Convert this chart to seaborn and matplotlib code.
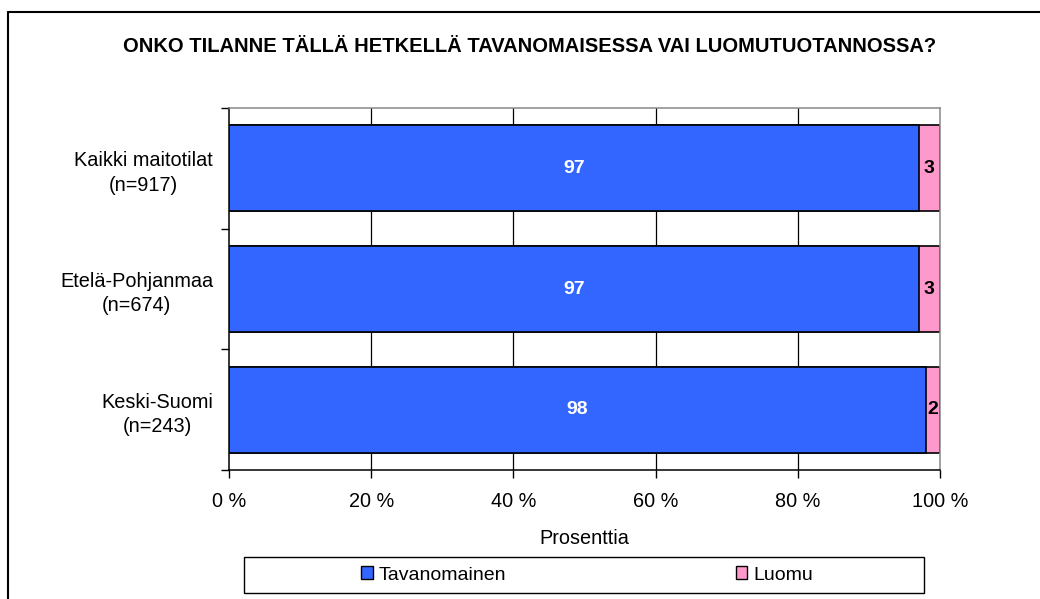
import numpy as np
import pandas as pd
import seaborn as sns
import matplotlib.pyplot as plt
from matplotlib.patches import Rectangle, Patch
from matplotlib.lines import Line2D

categories = ['Kaikki maitotilat\n(n=917)', 'Etelä-Pohjanmaa\n(n=674)', 'Keski-Suomi\n(n=243)']
tavanomainen = [97, 97, 98]
luomu = [3, 3, 2]
series_names = ['Tavanomainen', 'Luomu']
xticks = [0, 20, 40, 60, 80, 100]
xtick_labels = ['0 %', '20 %', '40 %', '60 %', '80 %', '100 %']

blue = '#3366FF'
pink = '#FF99CC'

df = pd.DataFrame({'cat': categories, 'tav': tavanomainen, 'luomu': luomu})
df['total'] = df['tav'] + df['luomu']

sns.set_style('white')
plt.rcParams['font.family'] = ['Liberation Sans', 'DejaVu Sans']
plt.rcParams['text.color'] = 'black'
plt.rcParams['axes.labelcolor'] = 'black'
plt.rcParams['xtick.color'] = 'black'
plt.rcParams['ytick.color'] = 'black'

fig = plt.figure(figsize=(10.4, 5.99), dpi=100)
ax = fig.add_axes([229 / 1040, 1 - 470 / 599, (940 - 229) / 1040, (470 - 108) / 599])

# grid first so bars sit on top
for x in xticks[1:-1]:
    ax.axvline(x, color='black', lw=0.9, zorder=0)

sns.barplot(data=df, x='total', y='cat', orient='h', color=pink, saturation=1,
            edgecolor='black', linewidth=1.2, width=0.71, ax=ax, zorder=2)
sns.barplot(data=df, x='tav', y='cat', orient='h', color=blue, saturation=1,
            edgecolor='black', linewidth=1.2, width=0.71, ax=ax, zorder=3)

for i, row in df.iterrows():
    ax.text(row['tav'] / 2, i, str(row['tav']), ha='center', va='center',
            color='white', fontsize=14, fontweight='bold', zorder=5)
    ax.text(row['tav'] + row['luomu'] / 2, i, str(row['luomu']), ha='center', va='center',
            color='black', fontsize=14, fontweight='bold', zorder=5)

ax.set_xlim(0, 100)
ax.set_ylim(len(categories) - 0.5, -0.5)
ax.set_xticks(xticks)
ax.set_xticklabels(xtick_labels, fontsize=14.3)
ax.tick_params(axis='x', direction='out', length=6, width=1, color='black', pad=10, bottom=True)

ax.set_yticks(np.arange(len(categories) + 1) - 0.5)
ax.set_yticklabels([])
ax.set_yticks(np.arange(len(categories)), minor=True)
ax.set_yticklabels(categories, minor=True, fontsize=14.3, ha='right', multialignment='center',
                   linespacing=1.35)
ax.tick_params(axis='y', which='major', direction='out', length=6, width=1, color='black', left=True)
ax.tick_params(axis='y', which='minor', length=0, pad=11.5)
ax.set_ylabel('')
ax.set_xlabel('Prosenttia', fontsize=14.3, labelpad=13)

for side in ['left', 'bottom']:
    ax.spines[side].set_color('black')
    ax.spines[side].set_linewidth(1.1)
for side in ['top', 'right']:
    ax.spines[side].set_color('#888888')
    ax.spines[side].set_linewidth(1.1)

fig.text(530 / 1040, 1 - 47 / 599, 'ONKO TILANNE TÄLLÄ HETKELLÄ TAVANOMAISESSA VAI LUOMUTUOTANNOSSA?',
         ha='center', va='center', fontsize=14.5, fontweight='bold')

# outer chart frame (only top and left edges visible in the crop)
fig.add_artist(Line2D([8 / 1040, 8 / 1040], [0, 1 - 12 / 599], transform=fig.transFigure,
                      color='black', lw=1.5))
fig.add_artist(Line2D([8 / 1040, 1], [1 - 12 / 599, 1 - 12 / 599], transform=fig.transFigure,
                      color='black', lw=1.5))

# legend box
fig.add_artist(Rectangle((244 / 1040, 1 - 593 / 599), (924 - 244) / 1040, 36 / 599,
                         transform=fig.transFigure, facecolor='white', edgecolor='black', lw=1))
handles = [Patch(facecolor=blue, edgecolor='black', lw=1),
           Patch(facecolor=pink, edgecolor='black', lw=1)]
fig.legend(handles, series_names, loc='center', bbox_to_anchor=(587 / 1040, 1 - 575 / 599),
           ncol=2, frameon=False, fontsize=14, handlelength=0.6, handleheight=0.6,
           handletextpad=0.3, columnspacing=11.8)

fig.savefig('out.png', dpi=100)
